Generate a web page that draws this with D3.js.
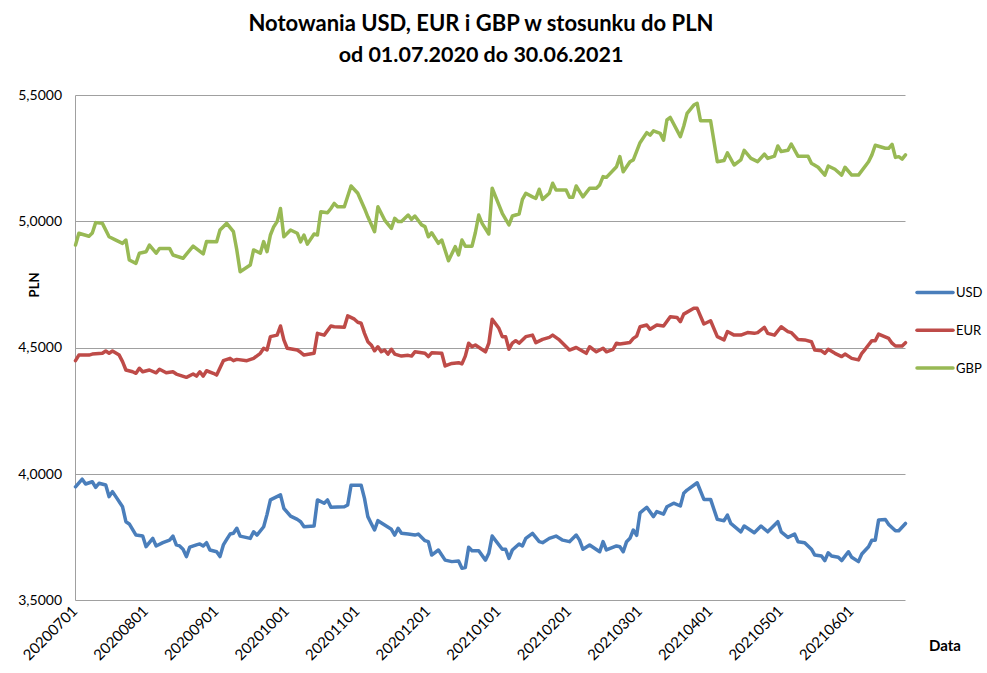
<!DOCTYPE html>
<html>
<head>
<meta charset="utf-8">
<title>Notowania USD, EUR, GBP</title>
<script src="https://d3js.org/d3.v7.min.js"></script>
<style>
body { margin: 0; background: #fff; }
text { font-family: Lato, "Open Sans", sans-serif; fill: #000; }
.grid line { stroke: #a0a0a0; stroke-width: 1; }
.series { fill: none; stroke-width: 3.5; stroke-linejoin: round; stroke-linecap: round; }
</style>
</head>
<body>
<div id="chart"></div>
<script>
// trading-day index (0 = 2020-07-01) and rate
var usd = [[0,3.949],[2,3.979],[3,3.960],[5,3.969],[6,3.947],[7,3.963],[9,3.956],[10,3.91],[11,3.93],[12,3.910],[14,3.870],[15,3.811],[16,3.802],[18,3.758],[20,3.754],[21,3.712],[23,3.745],[24,3.715],[26,3.728],[28,3.738],[29,3.754],[30,3.719],[31,3.715],[32,3.702],[33,3.673],[34,3.710],[36,3.719],[37,3.723],[38,3.715],[39,3.728],[40,3.699],[42,3.692],[43,3.673],[44,3.719],[45,3.741],[46,3.762],[47,3.765],[48,3.785],[49,3.754],[52,3.745],[53,3.771],[54,3.758],[56,3.791],[57,3.84],[58,3.897],[61,3.917],[62,3.864],[64,3.833],[66,3.820],[67,3.811],[68,3.791],[71,3.794],[72,3.897],[74,3.884],[75,3.897],[76,3.868],[80,3.870],[81,3.877],[82,3.955],[85,3.955],[86,3.903],[87,3.831],[88,3.804],[89,3.778],[90,3.815],[92,3.798],[94,3.781],[95,3.758],[96,3.785],[97,3.765],[99,3.762],[101,3.758],[102,3.762],[104,3.736],[105,3.732],[106,3.679],[108,3.699],[110,3.659],[112,3.653],[114,3.655],[115,3.627],[116,3.63],[117,3.710],[118,3.696],[120,3.696],[122,3.659],[123,3.686],[124,3.754],[127,3.702],[128,3.702],[129,3.666],[130,3.699],[132,3.723],[133,3.715],[134,3.745],[136,3.765],[138,3.732],[139,3.728],[141,3.745],[143,3.754],[145,3.738],[147,3.732],[149,3.758],[150,3.738],[151,3.702],[153,3.719],[156,3.692],[157,3.732],[158,3.699],[161,3.715],[162,3.712],[163,3.692],[164,3.732],[165,3.745],[166,3.778],[167,3.757],[168,3.846],[170,3.868],[172,3.831],[173,3.851],[175,3.841],[176,3.870],[178,3.884],[180,3.873],[181,3.923],[182,3.936],[185,3.965],[187,3.899],[189,3.899],[191,3.820],[193,3.815],[194,3.837],[195,3.804],[198,3.771],[199,3.794],[202,3.767],[204,3.794],[206,3.771],[209,3.811],[210,3.771],[212,3.749],[214,3.762],[215,3.732],[217,3.728],[219,3.702],[220,3.679],[222,3.675],[223,3.657],[224,3.688],[225,3.675],[227,3.67],[228,3.657],[230,3.692],[231,3.67],[233,3.653],[234,3.683],[236,3.712],[237,3.738],[238,3.738],[239,3.818],[241,3.820],[242,3.80],[244,3.775],[245,3.775],[247,3.804]];

var eur = [[0,4.448],[1,4.470],[4,4.47],[5,4.474],[8,4.477],[9,4.486],[10,4.477],[11,4.486],[13,4.470],[14,4.444],[15,4.411],[17,4.404],[18,4.398],[19,4.418],[20,4.404],[22,4.411],[24,4.40],[25,4.414],[27,4.40],[29,4.404],[30,4.395],[33,4.382],[35,4.395],[36,4.387],[37,4.404],[38,4.387],[39,4.408],[41,4.398],[42,4.391],[44,4.448],[46,4.457],[47,4.448],[48,4.453],[51,4.448],[53,4.457],[55,4.477],[56,4.497],[57,4.49],[58,4.543],[60,4.549],[61,4.585],[62,4.53],[63,4.497],[66,4.49],[67,4.481],[68,4.470],[71,4.477],[72,4.556],[74,4.549],[76,4.585],[77,4.582],[80,4.58],[81,4.625],[83,4.612],[84,4.60],[85,4.596],[86,4.556],[87,4.523],[88,4.51],[89,4.487],[90,4.503],[91,4.483],[92,4.49],[93,4.474],[94,4.493],[95,4.474],[97,4.466],[99,4.469],[100,4.466],[101,4.483],[104,4.477],[105,4.464],[106,4.479],[109,4.477],[110,4.427],[112,4.437],[114,4.44],[115,4.435],[116,4.466],[117,4.517],[118,4.503],[119,4.51],[122,4.483],[123,4.517],[124,4.612],[126,4.576],[127,4.543],[128,4.543],[129,4.493],[130,4.517],[131,4.527],[132,4.517],[134,4.543],[136,4.549],[137,4.519],[139,4.532],[141,4.540],[142,4.549],[144,4.53],[147,4.49],[149,4.5],[152,4.477],[153,4.503],[155,4.483],[157,4.497],[158,4.483],[160,4.493],[161,4.517],[162,4.514],[165,4.52],[166,4.536],[167,4.545],[168,4.582],[170,4.589],[171,4.572],[173,4.589],[175,4.585],[177,4.622],[179,4.619],[180,4.602],[181,4.632],[184,4.655],[185,4.655],[187,4.593],[189,4.606],[191,4.543],[193,4.53],[194,4.563],[196,4.549],[198,4.549],[200,4.559],[202,4.556],[203,4.559],[205,4.58],[206,4.556],[208,4.549],[210,4.582],[212,4.563],[213,4.559],[215,4.532],[217,4.53],[219,4.523],[220,4.49],[222,4.487],[223,4.477],[224,4.493],[226,4.477],[228,4.464],[229,4.474],[231,4.457],[233,4.451],[234,4.477],[235,4.493],[237,4.527],[238,4.527],[239,4.553],[242,4.536],[243,4.517],[244,4.506],[246,4.506],[247,4.519]];

var gbp = [[0,4.905],[1,4.952],[4,4.94],[5,4.953],[6,4.994],[8,4.991],[10,4.938],[12,4.925],[14,4.912],[15,4.925],[16,4.846],[18,4.833],[19,4.873],[21,4.879],[22,4.905],[24,4.873],[25,4.892],[28,4.892],[29,4.866],[32,4.853],[35,4.901],[38,4.870],[39,4.919],[42,4.918],[43,4.965],[45,4.991],[47,4.958],[48,4.886],[49,4.80],[52,4.826],[53,4.886],[55,4.873],[56,4.919],[57,4.879],[58,4.945],[59,4.978],[60,4.998],[61,5.05],[62,4.938],[64,4.965],[66,4.952],[67,4.918],[68,4.945],[69,4.909],[71,4.949],[72,4.945],[73,5.037],[75,5.033],[76,5.05],[77,5.07],[78,5.057],[80,5.057],[82,5.139],[84,5.11],[86,5.05],[87,5.017],[89,4.958],[90,5.057],[92,5.004],[94,4.971],[95,5.011],[96,4.998],[97,4.998],[99,5.024],[100,5.007],[101,5.02],[103,4.985],[104,4.978],[105,4.938],[106,4.954],[108,4.912],[109,4.925],[111,4.843],[113,4.899],[114,4.866],[115,4.925],[116,4.901],[118,4.901],[119,4.955],[120,5.024],[121,4.991],[123,4.949],[124,5.13],[126,5.064],[127,5.031],[129,4.985],[130,5.02],[132,5.028],[133,5.086],[134,5.11],[136,5.096],[137,5.09],[138,5.126],[139,5.086],[141,5.11],[142,5.15],[143,5.123],[146,5.123],[147,5.094],[148,5.094],[149,5.139],[151,5.096],[153,5.13],[155,5.13],[156,5.143],[157,5.176],[158,5.173],[161,5.215],[162,5.255],[163,5.195],[165,5.235],[166,5.242],[168,5.31],[170,5.35],[171,5.34],[172,5.357],[174,5.347],[175,5.32],[176,5.40],[177,5.41],[180,5.334],[181,5.375],[182,5.426],[184,5.459],[185,5.466],[186,5.397],[189,5.397],[191,5.235],[193,5.24],[194,5.27],[196,5.222],[198,5.242],[199,5.28],[201,5.248],[203,5.235],[205,5.265],[206,5.248],[208,5.257],[209,5.297],[210,5.275],[212,5.28],[213,5.305],[215,5.257],[218,5.257],[219,5.229],[221,5.213],[223,5.182],[224,5.218],[226,5.205],[228,5.182],[229,5.213],[231,5.182],[233,5.182],[236,5.235],[237,5.262],[238,5.30],[241,5.288],[242,5.288],[243,5.304],[244,5.252],[245,5.255],[246,5.245],[247,5.262]];

var lastDay = 247;
var tickDays = [0, 21, 42, 63, 84, 105, 126, 147, 168, 189, 210, 231];
var tickLabels = ["20200701","20200801","20200901","20201001","20201101","20201201",
                  "20210101","20210201","20210301","20210401","20210501","20210601"];
var yTicks = [3.5, 4.0, 4.5, 5.0, 5.5];

var series = [
  { name: "USD", data: usd, color: "#4a7ebb" },
  { name: "EUR", data: eur, color: "#be4b48" },
  { name: "GBP", data: gbp, color: "#98b954" }
];

var W = 987, H = 673;
var x = d3.scaleLinear().domain([0, lastDay]).range([75.5, 905.5]);
var y = d3.scaleLinear().domain([3.5, 5.5]).range([600.3, 94.7]);

var svg = d3.select("#chart").append("svg")
    .attr("width", W).attr("height", H);

// gridlines
svg.append("g").attr("class", "grid")
  .selectAll("line").data(yTicks).enter().append("line")
    .attr("x1", x(0)).attr("x2", x(lastDay))
    .attr("y1", function(d) { return Math.round(y(d)) + 0.5; })
    .attr("y2", function(d) { return Math.round(y(d)) + 0.5; });

// left axis line
svg.append("line")
    .attr("x1", 75.5).attr("x2", 75.5)
    .attr("y1", Math.round(y(5.5)) + 0.5).attr("y2", Math.round(y(3.5)) + 0.5)
    .attr("stroke", "#a0a0a0");

// y labels
var fmt = d3.format(".4f");
svg.append("g").selectAll("text").data(yTicks).enter().append("text")
    .attr("x", 62).attr("y", function(d) { return y(d); })
    .attr("dy", "0.35em")
    .attr("text-anchor", "end")
    .style("font-size", "14px")
    .text(function(d) { return fmt(d).replace(".", ","); });

// x labels
svg.append("g").selectAll("text").data(tickDays).enter().append("text")
    .attr("transform", function(d) { return "translate(" + (x(d) + 3) + ",612) rotate(-45)"; })
    .attr("text-anchor", "end")
    .style("font-size", "15px")
    .text(function(d, i) { return tickLabels[i]; });

// lines
var line = d3.line()
    .x(function(d) { return x(d[0]); })
    .y(function(d) { return y(d[1]); });

svg.selectAll(".series").data(series).enter().append("path")
    .attr("class", "series")
    .attr("stroke", function(d) { return d.color; })
    .attr("d", function(d) { return line(d.data); });

// titles
svg.append("text").attr("x", 481).attr("y", 31)
    .attr("text-anchor", "middle")
    .style("font-size", "22px").style("font-weight", "bold")
    .text("Notowania USD, EUR i GBP w stosunku do PLN");
svg.append("text").attr("x", 481).attr("y", 62)
    .attr("text-anchor", "middle")
    .style("font-size", "21.5px").style("font-weight", "bold")
    .text("od 01.07.2020 do 30.06.2021");

svg.append("text")
    .attr("transform", "translate(39,285) rotate(-90)")
    .attr("text-anchor", "middle")
    .style("font-size", "13px").style("font-weight", "bold")
    .text("PLN");

svg.append("text").attr("x", 929).attr("y", 651)
    .style("font-size", "15px").style("font-weight", "bold")
    .text("Data");

// legend
var leg = svg.append("g").selectAll("g").data(series).enter().append("g")
    .attr("transform", function(d, i) { return "translate(917," + (292.5 + i * 37.8) + ")"; });
leg.append("line").attr("x1", 0).attr("x2", 36)
    .attr("stroke", function(d) { return d.color; })
    .attr("stroke-width", 3.5).attr("stroke-linecap", "round");
leg.append("text").attr("x", 39).attr("dy", "0.35em")
    .style("font-size", "13px")
    .text(function(d) { return d.name; });
</script>
</body>
</html>
